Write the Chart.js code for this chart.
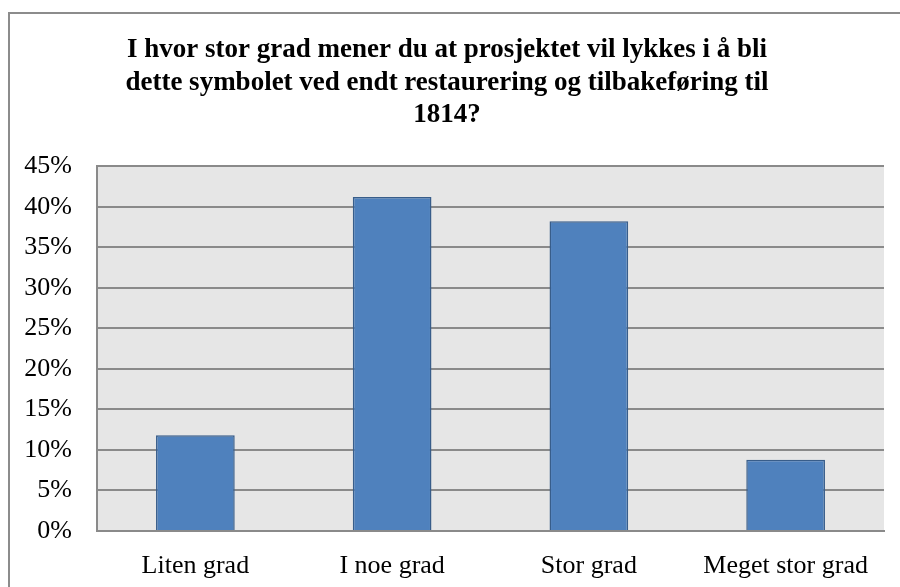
<!DOCTYPE html>
<html>
<head>
<meta charset="utf-8">
<script src="https://cdn.jsdelivr.net/npm/chart.js@4/dist/chart.umd.min.js"></script>
<style>
  html, body { margin: 0; padding: 0; background: #fff; }
  #wrap { width: 900px; height: 587px; }
</style>
</head>
<body>
<div id="wrap"><canvas id="myChart"></canvas></div>
<script>
const categories = ['Liten grad', 'I noe grad', 'Stor grad', 'Meget stor grad'];
const shares = [0.118, 0.412, 0.382, 0.088];
const titleLines = [
  'I hvor stor grad mener du at prosjektet vil lykkes i å bli',
  'dette symbolet ved endt restaurering og tilbakeføring til',
  '1814?',
];

const gridGray = '#8a8a8a';

// grey plot background + outer frame like the Excel chart
const framePlugin = {
  id: 'frame',
  beforeDraw(chart) {
    const { ctx, chartArea } = chart;
    ctx.save();
    ctx.fillStyle = '#e6e6e6';
    ctx.fillRect(chartArea.left, chartArea.top, chartArea.right - chartArea.left, chartArea.bottom - chartArea.top);
    ctx.restore();
  },
  afterDraw(chart) {
    const { ctx } = chart;
    ctx.save();
    ctx.strokeStyle = '#8c8c8c';
    ctx.lineWidth = 2;
    ctx.strokeRect(9, 13, 1000, 1000);
    ctx.restore();
  },
};

const ctx = document.getElementById('myChart');
// eslint-disable-next-line no-new
new Chart(ctx, {
  type: 'bar',
  data: {
    labels: categories,
    datasets: [
      {
        data: shares,
        backgroundColor: '#4f81bd',
        borderColor: '#385d8a',
        borderWidth: 1.5,
        categoryPercentage: 1,
        barPercentage: 0.4,
      },
    ],
  },
  options: {
    responsive: true,
    maintainAspectRatio: false,
    animation: false,
    layout: {
      padding: { top: 12, left: 10, right: 16, bottom: 0 },
    },
    plugins: {
      legend: { display: false },
      tooltip: { enabled: false },
      title: {
        display: true,
        text: titleLines,
        color: '#000',
        font: { family: 'Liberation Serif', size: 27, weight: 'bold', lineHeight: 1.2 },
        padding: { top: 22, bottom: 35 },
      },
    },
    scales: {
      x: {
        afterFit(scale) { scale.height = 56; },
        grid: { display: false, drawTicks: false },
        border: { display: true, color: gridGray, width: 2 },
        ticks: {
          color: '#000',
          padding: 20,
          maxRotation: 0,
          font: { family: 'Liberation Serif', size: 26 },
        },
      },
      y: {
        min: 0,
        max: 0.45,
        afterFit(scale) { scale.width = 87; },
        grid: { color: gridGray, lineWidth: 2, drawTicks: false },
        border: { display: true, color: gridGray, width: 2 },
        ticks: {
          stepSize: 0.05,
          color: '#000',
          padding: 25,
          font: { family: 'Liberation Serif', size: 26 },
          callback: (v) => Math.round(v * 100) + '%',
        },
      },
    },
  },
  plugins: [framePlugin],
});
</script>
</body>
</html>
